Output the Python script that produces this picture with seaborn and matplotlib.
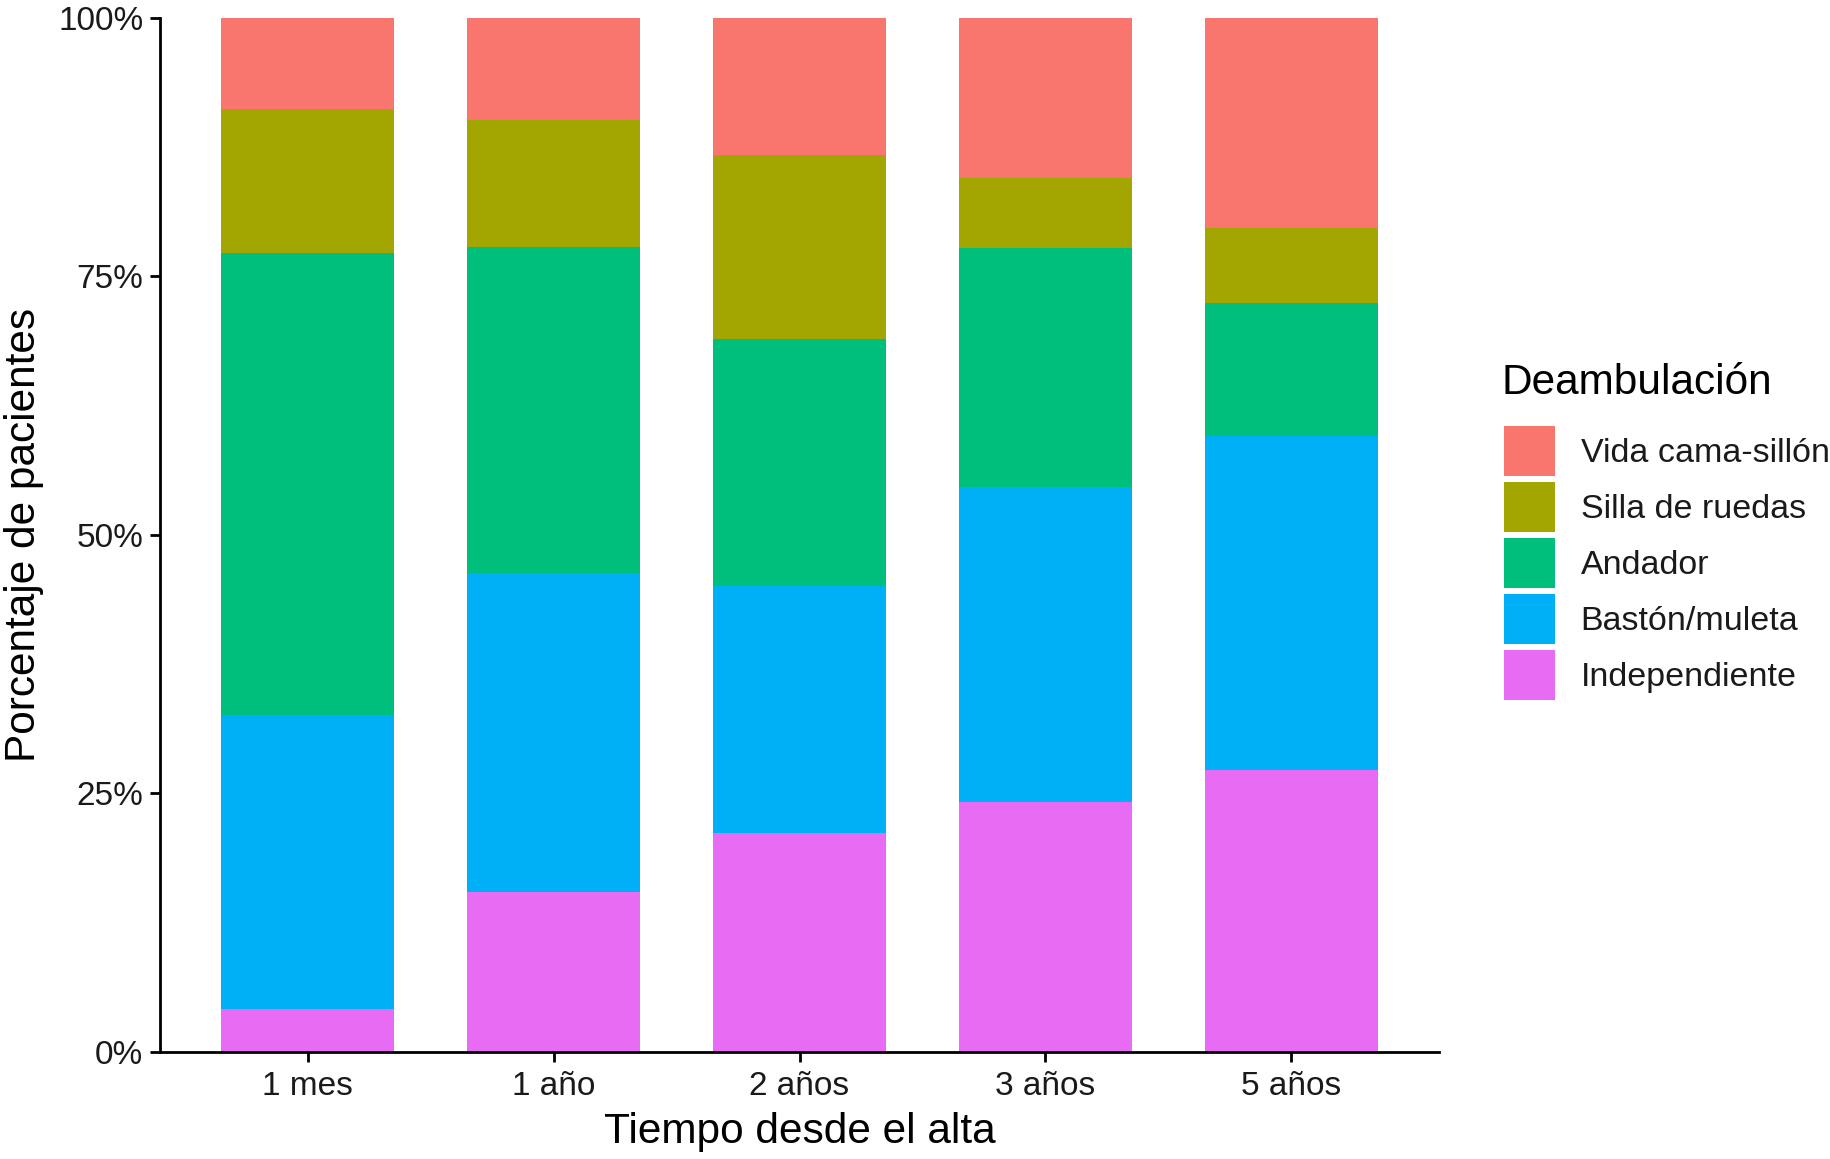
import matplotlib
matplotlib.use("Agg")
import matplotlib.pyplot as plt
from matplotlib.patches import Patch
import numpy as np
import pandas as pd
import seaborn as sns

# ---- data (percent of patients) ----
tiempos = ["1 mes", "1 año", "2 años", "3 años", "5 años"]
categorias = ["Vida cama-sillón", "Silla de ruedas", "Andador", "Bastón/muleta", "Independiente"]
independiente = [4.2, 15.5, 21.2, 24.2, 27.3]
baston = [28.4, 30.8, 23.8, 30.4, 32.2]
andador = [44.6, 31.5, 23.9, 23.1, 12.9]
silla = [14.0, 12.3, 17.8, 6.8, 7.3]
vida = [8.8, 9.9, 13.3, 15.5, 20.3]
colores = ["#F8766D", "#A3A500", "#00BF7D", "#00B0F6", "#E76BF3"]

sns.set_theme(style="white")
plt.rcParams["font.family"] = ["Liberation Sans", "DejaVu Sans"]

# series stacked from bottom to top
bottom_to_top = [("Independiente", independiente), ("Bastón/muleta", baston),
                 ("Andador", andador), ("Silla de ruedas", silla),
                 ("Vida cama-sillón", vida)]
color_map = dict(zip(categorias, colores))

cum = np.zeros(len(tiempos))
layers = []
for name, vals in bottom_to_top:
    cum = cum + np.array(vals)
    layers.append((name, cum.copy()))

fig = plt.figure(figsize=(18.31, 11.59), dpi=100)
ax = fig.add_axes([160 / 1831, 1 - 1052 / 1159, (1439 - 160) / 1831, (1052 - 17.5) / 1159])

# draw from top layer down so lower layers cover upper cumulative bars
for name, top in reversed(layers):
    df = pd.DataFrame({"Tiempo": tiempos, "pct": top})
    sns.barplot(data=df, x="Tiempo", y="pct", order=tiempos, color=color_map[name],
                width=0.7, linewidth=0, saturation=1, ax=ax, errorbar=None)

ax.set_xlim(-0.6, 4.6)
ax.set_ylim(0, 100)
ax.set_yticks([0, 25, 50, 75, 100])
ax.set_yticklabels(["0%", "25%", "50%", "75%", "100%"])

for s in ["top", "right"]:
    ax.spines[s].set_visible(False)
for s in ["left", "bottom"]:
    ax.spines[s].set_color("black")
    ax.spines[s].set_linewidth(2.0)

ax.tick_params(axis="both", which="major", length=7, width=2.0, color="black",
               labelsize=24, labelcolor="#1a1a1a", direction="out")
ax.tick_params(axis="y", pad=5)
ax.tick_params(axis="x", pad=7)
ax.tick_params(left=True, bottom=True)

ax.set_xlabel("Tiempo desde el alta", fontsize=30.5, color="black")
ax.set_ylabel("Porcentaje de pacientes", fontsize=30.5, color="black")
ax.xaxis.set_label_coords(0.5, -0.058)
ax.yaxis.set_label_coords(-0.091, 0.5)

# legend title placed separately, legend entries below it
fig.text(1502 / 1831, 1 - 383 / 1159, "Deambulación", fontsize=30.5, color="black",
         ha="left", va="center")
handles = [Patch(facecolor=color_map[c], edgecolor="none", label=c) for c in categorias]
leg = ax.legend(handles=handles, loc="upper left",
                bbox_to_anchor=(1504 / 1831, 1 - 426 / 1159), bbox_transform=fig.transFigure,
                frameon=False, fontsize=24.5,
                handlelength=1.50, handleheight=1.884, labelspacing=0.176,
                handletextpad=0.75, borderpad=0, borderaxespad=0)
for t in leg.get_texts():
    t.set_color("#1a1a1a")

fig.savefig("out.png", dpi=100)
